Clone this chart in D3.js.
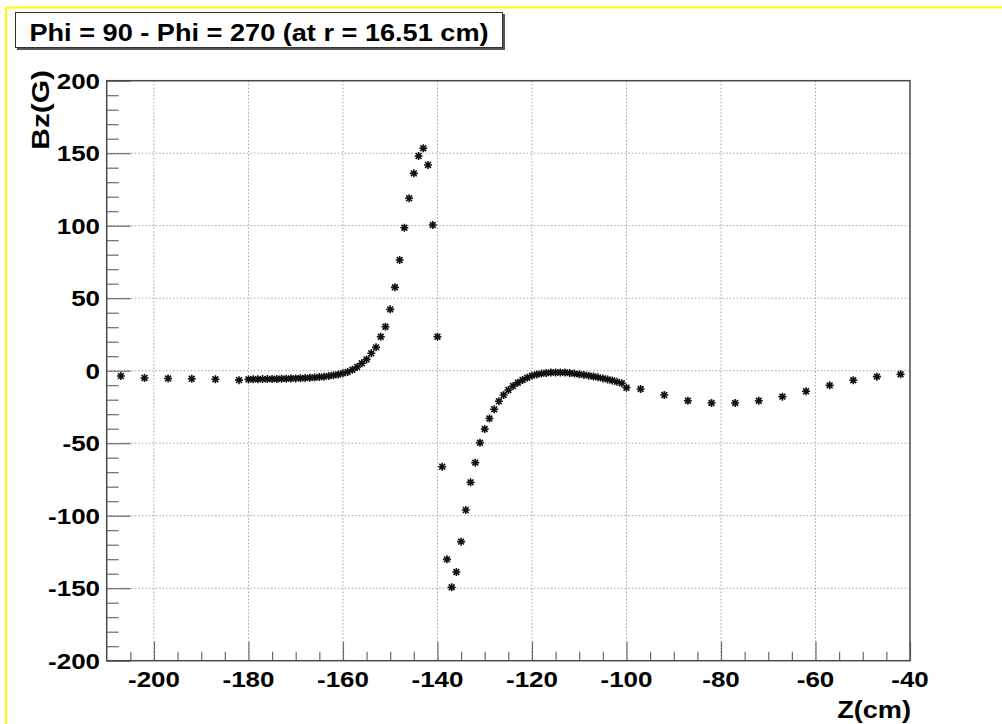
<!DOCTYPE html>
<html><head><meta charset="utf-8">
<script src="https://cdn.jsdelivr.net/npm/d3@7"></script>
<style>
body{margin:0;background:#fff;}
svg{display:block;}
text{font-family:"Liberation Sans",Arial,Helvetica,sans-serif;font-weight:bold;fill:#000;}
</style>
</head><body>
<svg id="c" width="1002" height="724"></svg>
<script>
// ---- data ----
const titleText = "Phi = 90 - Phi = 270 (at r = 16.51 cm)";
const xTitle = "Z(cm)";
const yTitle = "Bz(G)";
const xTickValues = [-200, -180, -160, -140, -120, -100, -80, -60, -40];
const yTickValues = [-200, -150, -100, -50, 0, 50, 100, 150, 200];

const zLeft  = [-207, -202, -197, -192, -187, -182];
const bzLeft = [-3.7, -5.0, -5.4, -5.6, -5.9, -6.5];

const zMid = [-180,-179,-178,-177,-176,-175,-174,-173,-172,-171,-170,-169,-168,-167,-166,-165,-164,-163,-162,-161,
              -160,-159,-158,-157,-156,-155,-154,-153,-152,-151,-150,-149,-148,-147,-146,-145,-144,-143,-142,-141,
              -140,-139,-138,-137,-136,-135,-134,-133,-132,-131,-130,-129,-128,-127,-126,-125,-124,-123,-122,-121,
              -120,-119,-118,-117,-116,-115,-114,-113,-112,-111,-110,-109,-108,-107,-106,-105,-104,-103,-102,-101,-100];
const bzMid = [-6.0,-5.9,-5.9,-5.8,-5.8,-5.7,-5.7,-5.6,-5.5,-5.4,-5.3,-5.2,-5.0,-4.9,-4.7,-4.4,-4.1,-3.7,-3.2,-2.6,
               -1.8,-0.9,0.6,2.6,5.1,7.8,12.0,16.1,23.4,30.3,42.3,57.5,76.3,98.6,118.9,136.1,148.1,153.4,141.9,100.5,
               23.4,-66.2,-130.1,-149.4,-138.8,-117.9,-96.1,-77.0,-63.4,-49.7,-40.2,-33.0,-26.6,-21.1,-16.8,-13.3,-10.6,-8.3,-6.4,-4.8,
               -3.4,-2.6,-2.0,-1.6,-1.3,-1.2,-1.2,-1.3,-1.6,-2.0,-2.4,-2.9,-3.4,-4.0,-4.6,-5.3,-6.0,-6.8,-7.7,-8.7,-11.7];

const zRight  = [-97, -92, -87, -82, -77, -72, -67, -62, -57, -52, -47, -42];
const bzRight = [-12.6, -16.8, -20.7, -22.3, -22.3, -20.7, -17.9, -14.2, -10.1, -6.6, -4.1, -2.5];

const zValues = zLeft.concat(zMid, zRight);
const bzValues = bzLeft.concat(bzMid, bzRight);

// ---- drawing ----
const SX = 1.18; // horizontal text stretch seen in the reference
const svg = d3.select("#c");
const L = 106.7, R = 910, T = 80.7, B = 660.7;
const x = d3.scaleLinear().domain([-210, -40]).range([L, R]);
const y = d3.scaleLinear().domain([-200, 200]).range([B, T]);

// canvas border (yellow)
svg.append("rect").attr("x",0).attr("y",0).attr("width",1002).attr("height",724).attr("fill","#fff");
svg.append("line").attr("x1",6).attr("x2",1002).attr("y1",7.5).attr("y2",7.5).attr("stroke","#ffff00").attr("stroke-width",2);
svg.append("line").attr("x1",6).attr("x2",6).attr("y1",7.5).attr("y2",724).attr("stroke","#ffff00").attr("stroke-width",2);

// grid
const gridColor = "#a89fae";
svg.append("g").selectAll("line").data(xTickValues.filter(v => v > -210 && v < -40)).join("line")
  .attr("x1", d => x(d)).attr("x2", d => x(d)).attr("y1", T).attr("y2", B)
  .attr("stroke", gridColor).attr("stroke-width", 1).attr("stroke-dasharray", "1.5,2");
svg.append("g").selectAll("line").data(yTickValues.filter(v => v > -200 && v < 200)).join("line")
  .attr("x1", L).attr("x2", R).attr("y1", d => y(d)).attr("y2", d => y(d))
  .attr("stroke", gridColor).attr("stroke-width", 1).attr("stroke-dasharray", "1.5,2");

// axes ticks (inside the frame)
const tickColor = "#6e6874";
const yMinor = d3.range(-200, 201, 10).filter(v => v % 50 !== 0);
const xMinor = d3.range(-205, -40, 5).filter(v => v % 20 !== 0);

function styleAxis(g){ g.select(".domain").remove(); g.selectAll("line").attr("stroke", tickColor).attr("stroke-width",1.2); }
svg.append("g").attr("transform", `translate(${L},0)`)
  .call(d3.axisLeft(y).tickValues(yTickValues).tickSize(-24).tickFormat(""))
  .call(styleAxis);
svg.append("g").attr("transform", `translate(${L},0)`)
  .call(d3.axisLeft(y).tickValues(yMinor).tickSize(-12).tickFormat(""))
  .call(styleAxis);
svg.append("g").attr("transform", `translate(0,${B})`)
  .call(d3.axisBottom(x).tickValues(xTickValues).tickSize(-19).tickFormat(""))
  .call(styleAxis);
svg.append("g").attr("transform", `translate(0,${B})`)
  .call(d3.axisBottom(x).tickValues(xMinor).tickSize(-9).tickFormat(""))
  .call(styleAxis);

// frame
svg.append("rect").attr("x", L).attr("y", T).attr("width", R - L).attr("height", B - T)
  .attr("fill", "none").attr("stroke", "#4a4a4a").attr("stroke-width", 1.5);

// tick labels
svg.append("g").selectAll("text").data(yTickValues).join("text")
  .attr("transform", d => `translate(100,${y(d) + 7.8}) scale(${SX},1)`)
  .attr("text-anchor", "end").attr("font-size", 22).text(d => d);
svg.append("g").selectAll("text").data(xTickValues).join("text")
  .attr("transform", d => `translate(${x(d)},686.5) scale(${SX},1)`)
  .attr("text-anchor", "middle").attr("font-size", 22).text(d => d);

// axis titles
svg.append("text").attr("transform", `translate(911,718) scale(${SX},1)`)
  .attr("text-anchor", "end").attr("font-size", 23).text(xTitle);
svg.append("text").attr("transform", `translate(49,70) rotate(-90) scale(1.3,1)`)
  .attr("text-anchor", "end").attr("font-size", 23).text(yTitle);

// title box
svg.append("rect").attr("x", 17).attr("y", 14).attr("width", 488).attr("height", 36).attr("fill", "#555");
svg.append("rect").attr("x", 15.5).attr("y", 12.5).attr("width", 487).attr("height", 35).attr("fill", "#fff").attr("stroke", "#333").attr("stroke-width", 1);
svg.append("text").attr("transform", `translate(259,40.5) scale(${SX},1)`)
  .attr("text-anchor", "middle").attr("font-size", 23).text(titleText);

// markers (ROOT style 3 asterisk)
const star = "M-4,0L4,0M0,-4L0,4M-2.9,-2.9L2.9,2.9M-2.9,2.9L2.9,-2.9";
svg.append("g").selectAll("path").data(zValues.map((z, i) => [z, bzValues[i]])).join("path")
  .attr("transform", d => `translate(${x(d[0])},${y(d[1])})`)
  .attr("d", star).attr("stroke", "#111").attr("stroke-width", 1.6).attr("fill", "none");
</script>
</body></html>
